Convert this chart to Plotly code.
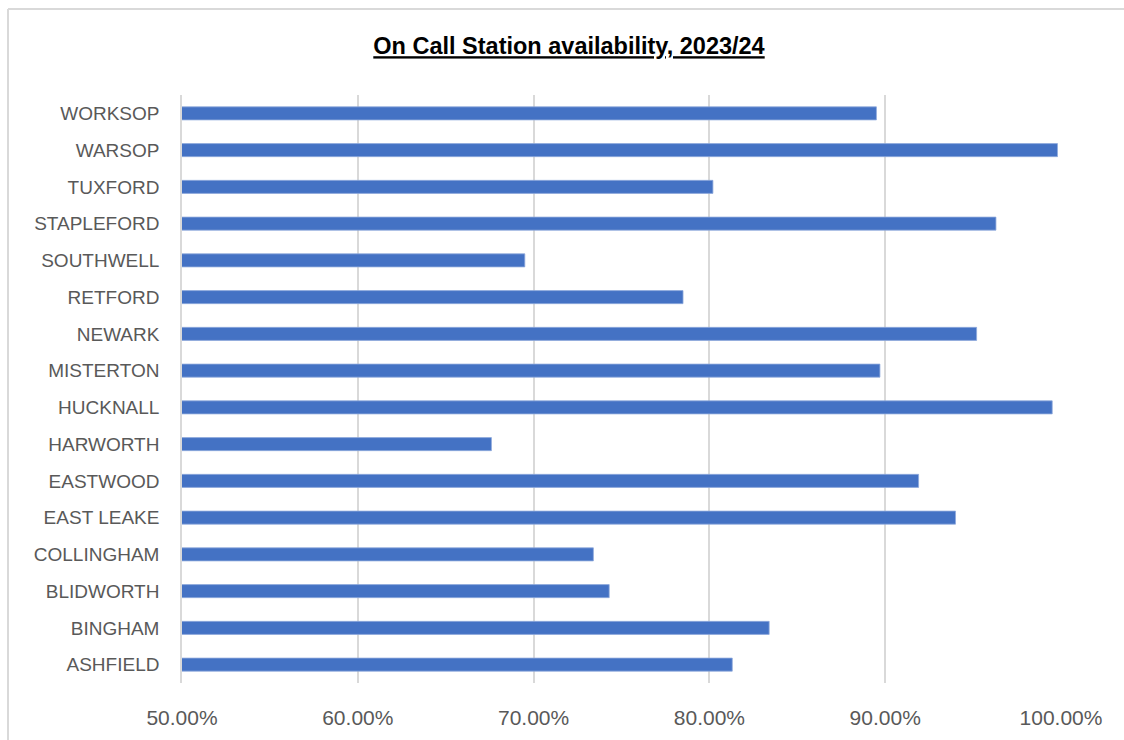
import plotly.graph_objects as go

stations = ["ASHFIELD", "BINGHAM", "BLIDWORTH", "COLLINGHAM", "EAST LEAKE", "EASTWOOD",
            "HARWORTH", "HUCKNALL", "MISTERTON", "NEWARK", "RETFORD", "SOUTHWELL",
            "STAPLEFORD", "TUXFORD", "WARSOP", "WORKSOP"]
availability = [0.813, 0.834, 0.743, 0.734, 0.940, 0.919,
                 0.676, 0.995, 0.897, 0.952, 0.785, 0.695,
                 0.963, 0.802, 0.998, 0.895]
x_ticks = [0.5, 0.6, 0.7, 0.8, 0.9, 1.0]
title_text = "On Call Station availability, 2023/24"

W, H = 1124, 740
L, R, T, B = 182, 63, 95, 57

fig = go.Figure(go.Bar(
    x=availability, y=stations, orientation="h",
    marker=dict(color="#4472C4", line=dict(color="#8FAADC", width=0.8)),
    width=0.355,
))

grey = "#D9D9D9"
fam = "Liberation Sans, Arial, sans-serif"
fig.update_layout(
    width=W, height=H,
    margin=dict(l=L, r=R, t=T, b=B, autoexpand=False),
    paper_bgcolor="white", plot_bgcolor="white",
    showlegend=False,
    font=dict(family=fam, size=18, color="#595959"),
    title=dict(text=title_text, x=(569 - L) / (W - L - R), xref="paper", xanchor="center",
               y=1 - 46 / H, yref="container", yanchor="middle",
               font=dict(family=fam, size=23.5, color="black",
                         weight="bold", lineposition="under")),
    xaxis=dict(range=[0.5, 1.0], tickvals=x_ticks, tickformat=".2%",
               tickfont=dict(size=21, color="#595959"),
               showgrid=True, gridcolor=grey, gridwidth=1.5, zeroline=False,
               showline=False, ticks="", ticklabelstandoff=20, fixedrange=True),
    yaxis=dict(type="category", categoryorder="array", categoryarray=stations,
               range=[-0.5, len(stations) - 0.5],
               tickfont=dict(size=19, color="#595959"),
               showgrid=False, showline=True, linecolor=grey, linewidth=1.5,
               ticks="", ticklabelstandoff=17, zeroline=False),
    shapes=[
        dict(type="line", xref="paper", yref="paper",
             x0=(8 - L) / (W - L - R), x1=(W + 10 - L) / (W - L - R),
             y0=1 + (T - 9) / (H - T - B), y1=1 + (T - 9) / (H - T - B),
             line=dict(color=grey, width=2)),
        dict(type="line", xref="paper", yref="paper",
             x0=(8 - L) / (W - L - R), x1=(8 - L) / (W - L - R),
             y0=1 + (T - 9) / (H - T - B), y1=-(B + 10) / (H - T - B),
             line=dict(color=grey, width=2)),
    ],
)

fig.write_html("out.html")
